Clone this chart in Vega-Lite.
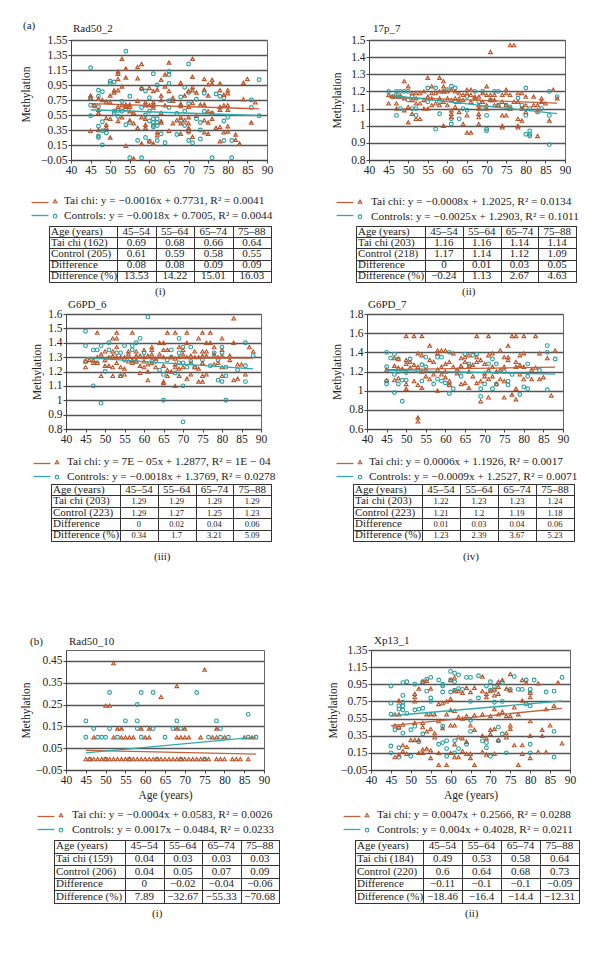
{"$schema":"https://vega.github.io/schema/vega-lite/v6.json","padding":0,"background":"white","spacing":0,"resolve":{"scale":{"color":"independent","shape":"independent","stroke":"independent"},"legend":{"color":"independent","stroke":"independent"}},
"config":{"view":{"stroke":null},"font":"Liberation Serif","text":{"font":"Liberation Serif"},"scale":{"bandPaddingInner":0,"bandPaddingOuter":0},"title":{"font":"Liberation Serif","fontSize":11,"fontWeight":"normal","anchor":"start","color":"#222","frame":"group"},
"legend":{"labelFont":"Liberation Serif","labelFontSize":11.3,"labelColor":"#222","labelLimit":320},
"point":{"filled":false,"size":14,"strokeWidth":1.1,"opacity":1},"line":{"strokeWidth":1.3},
"axisDiscrete":{"grid":true,"bandPosition":0,"tickBand":"extent","labels":false,"ticks":false,"domain":false,"gridColor":"#333","gridWidth":1},
"axisQuantitative":{"labelFont":"Liberation Serif","labelFontSize":11.5,"labelColor":"#222","titleFont":"Liberation Serif","titleFontSize":11.5,"titleFontWeight":"normal","titleColor":"#222","tickColor":"#444","domainColor":"#444","gridColor":"#555","gridWidth":1.3,"tickSize":3,"labelPadding":1,"labelOverlap":false,"labelFlush":false,"labelBound":false,"titlePadding":4}},
"datasets":{
"l1":[{"x":45,"y":0.701,"s":"Tai chi"},{"x":88,"y":0.632,"s":"Tai chi"},{"x":45,"y":0.62,"s":"Controls"},{"x":88,"y":0.542,"s":"Controls"}],
"l2":[{"x":45,"y":1.1665,"s":"Tai chi"},{"x":88,"y":1.132,"s":"Tai chi"},{"x":45,"y":1.178,"s":"Controls"},{"x":88,"y":1.07,"s":"Controls"}],
"l3":[{"x":45,"y":1.291,"s":"Tai chi"},{"x":88,"y":1.294,"s":"Tai chi"},{"x":45,"y":1.296,"s":"Controls"},{"x":88,"y":1.2185,"s":"Controls"}],
"l4":[{"x":45,"y":1.2196,"s":"Tai chi"},{"x":88,"y":1.2454,"s":"Tai chi"},{"x":45,"y":1.212,"s":"Controls"},{"x":88,"y":1.1735,"s":"Controls"}],
"l5":[{"x":45,"y":0.0403,"s":"Tai chi"},{"x":88,"y":0.0231,"s":"Tai chi"},{"x":45,"y":0.0281,"s":"Controls"},{"x":88,"y":0.101,"s":"Controls"}],
"l6":[{"x":45,"y":0.468,"s":"Tai chi"},{"x":88,"y":0.67,"s":"Tai chi"},{"x":45,"y":0.583,"s":"Controls"},{"x":88,"y":0.755,"s":"Controls"}],
"p1":[{"x":45,"y":1.18,"s":"C"},{"x":54,"y":1.4,"s":"C"},{"x":70,"y":1.23,"s":"C"},{"x":65,"y":1.13,"s":"C"},{"x":65,"y":1.09,"s":"C"},{"x":61,"y":1.1,"s":"C"},{"x":50,"y":1,"s":"C"},{"x":50,"y":0.97,"s":"C"},{"x":51,"y":0.99,"s":"C"},{"x":88,"y":1.02,"s":"C"},{"x":47,"y":0.88,"s":"C"},{"x":48,"y":0.86,"s":"C"},{"x":47,"y":0.8,"s":"C"},{"x":45,"y":0.78,"s":"C"},{"x":45,"y":0.68,"s":"C"},{"x":46,"y":0.67,"s":"C"},{"x":47,"y":0.66,"s":"C"},{"x":45,"y":0.54,"s":"C"},{"x":47,"y":0.4,"s":"C"},{"x":47,"y":0.27,"s":"C"},{"x":47,"y":0.25,"s":"C"},{"x":48,"y":0.46,"s":"C"},{"x":48,"y":0.34,"s":"C"},{"x":49,"y":0.31,"s":"C"},{"x":48,"y":0.15,"s":"C"},{"x":53,"y":0.73,"s":"C"},{"x":55,"y":0.8,"s":"C"},{"x":54,"y":0.63,"s":"C"},{"x":52,"y":0.61,"s":"C"},{"x":51,"y":0.6,"s":"C"},{"x":51,"y":0.57,"s":"C"},{"x":52,"y":0.53,"s":"C"},{"x":53,"y":0.6,"s":"C"},{"x":54,"y":0.42,"s":"C"},{"x":55,"y":0.45,"s":"C"},{"x":55,"y":-0.02,"s":"C"},{"x":58,"y":-0.02,"s":"C"},{"x":57,"y":0.21,"s":"C"},{"x":59,"y":0.25,"s":"C"},{"x":58,"y":0.65,"s":"C"},{"x":58,"y":0.9,"s":"C"},{"x":59,"y":0.87,"s":"C"},{"x":60,"y":0.78,"s":"C"},{"x":60,"y":0.6,"s":"C"},{"x":59,"y":0.55,"s":"C"},{"x":60,"y":0.47,"s":"C"},{"x":61,"y":0.45,"s":"C"},{"x":61,"y":0.41,"s":"C"},{"x":61,"y":0.39,"s":"C"},{"x":62,"y":0.5,"s":"C"},{"x":62,"y":0.45,"s":"C"},{"x":62,"y":0.41,"s":"C"},{"x":61,"y":0.5,"s":"C"},{"x":60,"y":0.2,"s":"C"},{"x":62,"y":0.21,"s":"C"},{"x":63,"y":0.3,"s":"C"},{"x":64,"y":0.18,"s":"C"},{"x":62,"y":0.95,"s":"C"},{"x":65,"y":0.97,"s":"C"},{"x":65,"y":0.74,"s":"C"},{"x":65,"y":0.65,"s":"C"},{"x":67,"y":0.57,"s":"C"},{"x":68,"y":0.79,"s":"C"},{"x":69,"y":0.92,"s":"C"},{"x":69,"y":0.6,"s":"C"},{"x":68,"y":0.47,"s":"C"},{"x":69,"y":0.41,"s":"C"},{"x":67,"y":0.29,"s":"C"},{"x":70,"y":0.32,"s":"C"},{"x":70,"y":0.21,"s":"C"},{"x":71,"y":0.18,"s":"C"},{"x":70,"y":0.7,"s":"C"},{"x":72,"y":0.76,"s":"C"},{"x":72,"y":0.5,"s":"C"},{"x":73,"y":0.45,"s":"C"},{"x":73,"y":0.35,"s":"C"},{"x":73,"y":0.23,"s":"C"},{"x":74,"y":0.84,"s":"C"},{"x":74,"y":0.6,"s":"C"},{"x":76,"y":-0.02,"s":"C"},{"x":77,"y":0.83,"s":"C"},{"x":78,"y":0.8,"s":"C"},{"x":79,"y":0.78,"s":"C"},{"x":79,"y":0.47,"s":"C"},{"x":80,"y":0.52,"s":"C"},{"x":79,"y":0.21,"s":"C"},{"x":81,"y":-0.02,"s":"C"},{"x":81,"y":0.21,"s":"C"},{"x":86,"y":0.75,"s":"C"},{"x":86,"y":0.65,"s":"C"},{"x":88,"y":0.54,"s":"C"},{"x":76,"y":0.57,"s":"C"},{"x":70,"y":0.85,"s":"C"},
{"x":53,"y":1.3,"s":"T"},{"x":71,"y":1.3,"s":"T"},{"x":65,"y":1.25,"s":"T"},{"x":58,"y":1.23,"s":"T"},{"x":57,"y":1.19,"s":"T"},{"x":54,"y":1.17,"s":"T"},{"x":52,"y":1.13,"s":"T"},{"x":52,"y":1.1,"s":"T"},{"x":52,"y":1.03,"s":"T"},{"x":54,"y":1.05,"s":"T"},{"x":57,"y":1.04,"s":"T"},{"x":64,"y":1.09,"s":"T"},{"x":63,"y":1.02,"s":"T"},{"x":68,"y":0.98,"s":"T"},{"x":71,"y":1.06,"s":"T"},{"x":74,"y":1.03,"s":"T"},{"x":76,"y":1.02,"s":"T"},{"x":76,"y":0.97,"s":"T"},{"x":75,"y":0.96,"s":"T"},{"x":78,"y":0.97,"s":"T"},{"x":84,"y":0.98,"s":"T"},{"x":85,"y":1.03,"s":"T"},{"x":53,"y":0.93,"s":"T"},{"x":51,"y":0.88,"s":"T"},{"x":52,"y":0.88,"s":"T"},{"x":51,"y":0.85,"s":"T"},{"x":61,"y":0.87,"s":"T"},{"x":62,"y":0.89,"s":"T"},{"x":60,"y":0.91,"s":"T"},{"x":64,"y":0.93,"s":"T"},{"x":65,"y":0.87,"s":"T"},{"x":58,"y":0.91,"s":"T"},{"x":70,"y":0.87,"s":"T"},{"x":71,"y":0.92,"s":"T"},{"x":71,"y":0.88,"s":"T"},{"x":72,"y":0.85,"s":"T"},{"x":74,"y":0.89,"s":"T"},{"x":75,"y":0.81,"s":"T"},{"x":78,"y":0.88,"s":"T"},{"x":79,"y":0.82,"s":"T"},{"x":80,"y":0.88,"s":"T"},{"x":80,"y":0.84,"s":"T"},{"x":46,"y":0.68,"s":"T"},{"x":45,"y":0.81,"s":"T"},{"x":45,"y":0.78,"s":"T"},{"x":47,"y":0.77,"s":"T"},{"x":48,"y":0.75,"s":"T"},{"x":49,"y":0.73,"s":"T"},{"x":50,"y":0.81,"s":"T"},{"x":50,"y":0.72,"s":"T"},{"x":55,"y":0.69,"s":"T"},{"x":54,"y":0.69,"s":"T"},{"x":53,"y":0.68,"s":"T"},{"x":52,"y":0.66,"s":"T"},{"x":54,"y":0.66,"s":"T"},{"x":55,"y":0.66,"s":"T"},{"x":57,"y":0.74,"s":"T"},{"x":59,"y":0.72,"s":"T"},{"x":59,"y":0.68,"s":"T"},{"x":60,"y":0.68,"s":"T"},{"x":61,"y":0.72,"s":"T"},{"x":61,"y":0.68,"s":"T"},{"x":61,"y":0.65,"s":"T"},{"x":63,"y":0.81,"s":"T"},{"x":63,"y":0.75,"s":"T"},{"x":64,"y":0.68,"s":"T"},{"x":66,"y":0.78,"s":"T"},{"x":66,"y":0.74,"s":"T"},{"x":68,"y":0.7,"s":"T"},{"x":68,"y":0.67,"s":"T"},{"x":69,"y":0.81,"s":"T"},{"x":70,"y":0.66,"s":"T"},{"x":71,"y":0.71,"s":"T"},{"x":73,"y":0.69,"s":"T"},{"x":74,"y":0.69,"s":"T"},{"x":75,"y":0.6,"s":"T"},{"x":76,"y":0.58,"s":"T"},{"x":78,"y":0.66,"s":"T"},{"x":78,"y":0.62,"s":"T"},{"x":79,"y":0.68,"s":"T"},{"x":80,"y":0.68,"s":"T"},{"x":80,"y":0.62,"s":"T"},{"x":84,"y":0.76,"s":"T"},{"x":87,"y":0.72,"s":"T"},{"x":45,"y":0.34,"s":"T"},{"x":47,"y":0.62,"s":"T"},{"x":47,"y":0.58,"s":"T"},{"x":47,"y":0.35,"s":"T"},{"x":49,"y":0.51,"s":"T"},{"x":49,"y":0.42,"s":"T"},{"x":49,"y":0.38,"s":"T"},{"x":50,"y":0.5,"s":"T"},{"x":50,"y":0.25,"s":"T"},{"x":52,"y":0.47,"s":"T"},{"x":53,"y":0.52,"s":"T"},{"x":54,"y":0.14,"s":"T"},{"x":55,"y":0.6,"s":"T"},{"x":55,"y":0.48,"s":"T"},{"x":56,"y":0.58,"s":"T"},{"x":56,"y":0.44,"s":"T"},{"x":56,"y":-0.03,"s":"T"},{"x":57,"y":0.38,"s":"T"},{"x":58,"y":0.52,"s":"T"},{"x":58,"y":0.17,"s":"T"},{"x":59,"y":0.5,"s":"T"},{"x":59,"y":0.42,"s":"T"},{"x":59,"y":0.38,"s":"T"},{"x":60,"y":0.2,"s":"T"},{"x":61,"y":0.17,"s":"T"},{"x":62,"y":0.32,"s":"T"},{"x":62,"y":0.28,"s":"T"},{"x":63,"y":0.58,"s":"T"},{"x":63,"y":0.47,"s":"T"},{"x":63,"y":0.45,"s":"T"},{"x":65,"y":0.34,"s":"T"},{"x":66,"y":0.44,"s":"T"},{"x":67,"y":0.48,"s":"T"},{"x":68,"y":0.52,"s":"T"},{"x":68,"y":0.44,"s":"T"},{"x":68,"y":0.3,"s":"T"},{"x":69,"y":0.48,"s":"T"},{"x":70,"y":0.52,"s":"T"},{"x":70,"y":0.44,"s":"T"},{"x":70,"y":0.38,"s":"T"},{"x":70,"y":0.34,"s":"T"},{"x":71,"y":0.26,"s":"T"},{"x":72,"y":0.54,"s":"T"},{"x":74,"y":0.48,"s":"T"},{"x":75,"y":0.45,"s":"T"},{"x":75,"y":0.3,"s":"T"},{"x":74,"y":0.32,"s":"T"},{"x":76,"y":0.5,"s":"T"},{"x":77,"y":0.38,"s":"T"},{"x":78,"y":0.39,"s":"T"},{"x":78,"y":0.2,"s":"T"},{"x":79,"y":0.32,"s":"T"},{"x":80,"y":0.4,"s":"T"},{"x":80,"y":0.33,"s":"T"},{"x":82,"y":0.29,"s":"T"},{"x":82,"y":0.22,"s":"T"},{"x":83,"y":0.17,"s":"T"},{"x":86,"y":0.45,"s":"T"}],
"p2":[{"x":45,"y":1.2,"s":"C"},{"x":46,"y":1.17,"s":"C"},{"x":47,"y":1.2,"s":"C"},{"x":47,"y":1.18,"s":"C"},{"x":48,"y":1.2,"s":"C"},{"x":49,"y":1.2,"s":"C"},{"x":50,"y":1.2,"s":"C"},{"x":48,"y":1.17,"s":"C"},{"x":47,"y":1.06,"s":"C"},{"x":48,"y":1.1,"s":"C"},{"x":50,"y":1.15,"s":"C"},{"x":51,"y":1.17,"s":"C"},{"x":51,"y":1.1,"s":"C"},{"x":52,"y":1.1,"s":"C"},{"x":52,"y":1.06,"s":"C"},{"x":55,"y":1.22,"s":"C"},{"x":55,"y":1.14,"s":"C"},{"x":57,"y":1.22,"s":"C"},{"x":57,"y":0.98,"s":"C"},{"x":58,"y":1.14,"s":"C"},{"x":58,"y":1.07,"s":"C"},{"x":59,"y":1.2,"s":"C"},{"x":60,"y":1.21,"s":"C"},{"x":61,"y":1.23,"s":"C"},{"x":62,"y":1.22,"s":"C"},{"x":61,"y":1.04,"s":"C"},{"x":61,"y":1.01,"s":"C"},{"x":62,"y":1.14,"s":"C"},{"x":63,"y":1.04,"s":"C"},{"x":64,"y":1.1,"s":"C"},{"x":65,"y":1.09,"s":"C"},{"x":65,"y":1.17,"s":"C"},{"x":67,"y":1.2,"s":"C"},{"x":69,"y":1.2,"s":"C"},{"x":70,"y":0.98,"s":"C"},{"x":70,"y":0.97,"s":"C"},{"x":68,"y":1.14,"s":"C"},{"x":69,"y":1.1,"s":"C"},{"x":70,"y":1.06,"s":"C"},{"x":72,"y":1.2,"s":"C"},{"x":73,"y":1.2,"s":"C"},{"x":73,"y":1.12,"s":"C"},{"x":71,"y":1.15,"s":"C"},{"x":75,"y":1.12,"s":"C"},{"x":76,"y":1.1,"s":"C"},{"x":76,"y":1.11,"s":"C"},{"x":78,"y":1.16,"s":"C"},{"x":79,"y":1.12,"s":"C"},{"x":79,"y":1.1,"s":"C"},{"x":80,"y":1.22,"s":"C"},{"x":80,"y":1.06,"s":"C"},{"x":80,"y":0.95,"s":"C"},{"x":81,"y":0.97,"s":"C"},{"x":81,"y":0.95,"s":"C"},{"x":81,"y":0.94,"s":"C"},{"x":81,"y":1.1,"s":"C"},{"x":83,"y":1.08,"s":"C"},{"x":84,"y":1.1,"s":"C"},{"x":86,"y":1.2,"s":"C"},{"x":86,"y":1.06,"s":"C"},{"x":86,"y":0.89,"s":"C"},{"x":88,"y":1.17,"s":"C"},
{"x":71,"y":1.43,"s":"T"},{"x":76,"y":1.47,"s":"T"},{"x":77,"y":1.47,"s":"T"},{"x":49,"y":1.26,"s":"T"},{"x":55,"y":1.28,"s":"T"},{"x":58,"y":1.28,"s":"T"},{"x":59,"y":1.26,"s":"T"},{"x":50,"y":1.23,"s":"T"},{"x":56,"y":1.23,"s":"T"},{"x":59,"y":1.23,"s":"T"},{"x":70,"y":1.23,"s":"T"},{"x":75,"y":1.21,"s":"T"},{"x":65,"y":1.21,"s":"T"},{"x":66,"y":1.21,"s":"T"},{"x":87,"y":1.21,"s":"T"},{"x":45,"y":1.18,"s":"T"},{"x":46,"y":1.17,"s":"T"},{"x":47,"y":1.17,"s":"T"},{"x":48,"y":1.17,"s":"T"},{"x":49,"y":1.16,"s":"T"},{"x":51,"y":1.19,"s":"T"},{"x":52,"y":1.19,"s":"T"},{"x":53,"y":1.19,"s":"T"},{"x":54,"y":1.2,"s":"T"},{"x":55,"y":1.17,"s":"T"},{"x":56,"y":1.19,"s":"T"},{"x":57,"y":1.19,"s":"T"},{"x":58,"y":1.2,"s":"T"},{"x":59,"y":1.2,"s":"T"},{"x":60,"y":1.2,"s":"T"},{"x":61,"y":1.21,"s":"T"},{"x":62,"y":1.2,"s":"T"},{"x":63,"y":1.19,"s":"T"},{"x":64,"y":1.18,"s":"T"},{"x":65,"y":1.19,"s":"T"},{"x":66,"y":1.18,"s":"T"},{"x":67,"y":1.17,"s":"T"},{"x":68,"y":1.17,"s":"T"},{"x":69,"y":1.19,"s":"T"},{"x":70,"y":1.18,"s":"T"},{"x":71,"y":1.18,"s":"T"},{"x":72,"y":1.18,"s":"T"},{"x":74,"y":1.18,"s":"T"},{"x":75,"y":1.19,"s":"T"},{"x":76,"y":1.18,"s":"T"},{"x":78,"y":1.19,"s":"T"},{"x":79,"y":1.19,"s":"T"},{"x":80,"y":1.17,"s":"T"},{"x":82,"y":1.17,"s":"T"},{"x":84,"y":1.16,"s":"T"},{"x":88,"y":1.16,"s":"T"},{"x":45,"y":1.13,"s":"T"},{"x":47,"y":1.13,"s":"T"},{"x":47,"y":1.1,"s":"T"},{"x":49,"y":1.09,"s":"T"},{"x":50,"y":1.11,"s":"T"},{"x":51,"y":1.15,"s":"T"},{"x":52,"y":1.13,"s":"T"},{"x":53,"y":1.13,"s":"T"},{"x":54,"y":1.1,"s":"T"},{"x":55,"y":1.1,"s":"T"},{"x":56,"y":1.12,"s":"T"},{"x":57,"y":1.13,"s":"T"},{"x":58,"y":1.12,"s":"T"},{"x":59,"y":1.14,"s":"T"},{"x":60,"y":1.12,"s":"T"},{"x":61,"y":1.15,"s":"T"},{"x":61,"y":1.09,"s":"T"},{"x":62,"y":1.11,"s":"T"},{"x":63,"y":1.14,"s":"T"},{"x":64,"y":1.15,"s":"T"},{"x":66,"y":1.14,"s":"T"},{"x":68,"y":1.12,"s":"T"},{"x":68,"y":1.1,"s":"T"},{"x":69,"y":1.14,"s":"T"},{"x":70,"y":1.12,"s":"T"},{"x":71,"y":1.15,"s":"T"},{"x":72,"y":1.15,"s":"T"},{"x":73,"y":1.12,"s":"T"},{"x":74,"y":1.14,"s":"T"},{"x":75,"y":1.12,"s":"T"},{"x":76,"y":1.1,"s":"T"},{"x":77,"y":1.14,"s":"T"},{"x":78,"y":1.14,"s":"T"},{"x":79,"y":1.1,"s":"T"},{"x":80,"y":1.12,"s":"T"},{"x":82,"y":1.12,"s":"T"},{"x":83,"y":1.12,"s":"T"},{"x":83,"y":1.09,"s":"T"},{"x":85,"y":1.13,"s":"T"},{"x":84,"y":1.14,"s":"T"},{"x":50,"y":1.02,"s":"T"},{"x":51,"y":1.07,"s":"T"},{"x":52,"y":1.04,"s":"T"},{"x":53,"y":1.04,"s":"T"},{"x":59,"y":1,"s":"T"},{"x":61,"y":1.07,"s":"T"},{"x":61,"y":1.05,"s":"T"},{"x":63,"y":1.08,"s":"T"},{"x":64,"y":1.01,"s":"T"},{"x":65,"y":1.06,"s":"T"},{"x":65,"y":0.96,"s":"T"},{"x":66,"y":0.96,"s":"T"},{"x":68,"y":1.07,"s":"T"},{"x":68,"y":1.05,"s":"T"},{"x":68,"y":1.01,"s":"T"},{"x":70,"y":1.1,"s":"T"},{"x":74,"y":1.06,"s":"T"},{"x":74,"y":1,"s":"T"},{"x":74,"y":0.99,"s":"T"},{"x":75,"y":1.06,"s":"T"},{"x":78,"y":1.04,"s":"T"},{"x":78,"y":1,"s":"T"},{"x":78,"y":0.99,"s":"T"},{"x":79,"y":1.03,"s":"T"},{"x":80,"y":1.08,"s":"T"},{"x":83,"y":0.94,"s":"T"},{"x":86,"y":1.03,"s":"T"},{"x":72,"y":1.12,"s":"T"},{"x":67,"y":1.16,"s":"T"},{"x":58,"y":1.16,"s":"T"},{"x":60,"y":1.16,"s":"T"},{"x":62,"y":1.16,"s":"T"},{"x":63,"y":1.16,"s":"T"},{"x":56,"y":1.16,"s":"T"},{"x":54,"y":1.15,"s":"T"},{"x":52,"y":1.16,"s":"T"}],
"p3":[{"x":45,"y":1.48,"s":"C"},{"x":45,"y":1.38,"s":"C"},{"x":45,"y":1.27,"s":"C"},{"x":47,"y":1.1,"s":"C"},{"x":47,"y":1.35,"s":"C"},{"x":48,"y":1.35,"s":"C"},{"x":48,"y":1.26,"s":"C"},{"x":49,"y":1.38,"s":"C"},{"x":49,"y":0.98,"s":"C"},{"x":50,"y":1.2,"s":"C"},{"x":51,"y":1.4,"s":"C"},{"x":51,"y":1.35,"s":"C"},{"x":53,"y":1.33,"s":"C"},{"x":54,"y":1.33,"s":"C"},{"x":54,"y":1.17,"s":"C"},{"x":55,"y":1.38,"s":"C"},{"x":57,"y":1.38,"s":"C"},{"x":57,"y":1.35,"s":"C"},{"x":58,"y":1.4,"s":"C"},{"x":59,"y":1.43,"s":"C"},{"x":61,"y":1.58,"s":"C"},{"x":60,"y":1.33,"s":"C"},{"x":62,"y":1.27,"s":"C"},{"x":64,"y":1.21,"s":"C"},{"x":65,"y":1.18,"s":"C"},{"x":65,"y":1,"s":"C"},{"x":66,"y":1.28,"s":"C"},{"x":67,"y":1.35,"s":"C"},{"x":67,"y":1.3,"s":"C"},{"x":68,"y":1.19,"s":"C"},{"x":69,"y":1.43,"s":"C"},{"x":69,"y":1.33,"s":"C"},{"x":69,"y":1.26,"s":"C"},{"x":70,"y":1.37,"s":"C"},{"x":70,"y":1.26,"s":"C"},{"x":70,"y":1.1,"s":"C"},{"x":70,"y":0.85,"s":"C"},{"x":71,"y":1.23,"s":"C"},{"x":72,"y":1.37,"s":"C"},{"x":72,"y":1.27,"s":"C"},{"x":73,"y":1.23,"s":"C"},{"x":75,"y":1.28,"s":"C"},{"x":77,"y":1.24,"s":"C"},{"x":78,"y":1.33,"s":"C"},{"x":79,"y":1.28,"s":"C"},{"x":79,"y":1.14,"s":"C"},{"x":80,"y":1.37,"s":"C"},{"x":80,"y":1.33,"s":"C"},{"x":80,"y":1.13,"s":"C"},{"x":81,"y":1.23,"s":"C"},{"x":81,"y":1.17,"s":"C"},{"x":81,"y":1,"s":"C"},{"x":84,"y":1.21,"s":"C"},{"x":86,"y":1.4,"s":"C"},{"x":86,"y":1.24,"s":"C"},{"x":86,"y":1.13,"s":"C"},{"x":88,"y":1.31,"s":"C"},{"x":55,"y":1.28,"s":"C"},{"x":58,"y":1.27,"s":"C"},{"x":63,"y":1.27,"s":"C"},
{"x":83,"y":1.57,"s":"T"},{"x":48,"y":1.47,"s":"T"},{"x":53,"y":1.47,"s":"T"},{"x":57,"y":1.47,"s":"T"},{"x":66,"y":1.47,"s":"T"},{"x":68,"y":1.47,"s":"T"},{"x":71,"y":1.47,"s":"T"},{"x":75,"y":1.47,"s":"T"},{"x":77,"y":1.47,"s":"T"},{"x":52,"y":1.43,"s":"T"},{"x":53,"y":1.43,"s":"T"},{"x":74,"y":1.43,"s":"T"},{"x":80,"y":1.43,"s":"T"},{"x":64,"y":1.4,"s":"T"},{"x":65,"y":1.4,"s":"T"},{"x":71,"y":1.4,"s":"T"},{"x":76,"y":1.4,"s":"T"},{"x":77,"y":1.4,"s":"T"},{"x":83,"y":1.4,"s":"T"},{"x":53,"y":1.37,"s":"T"},{"x":62,"y":1.37,"s":"T"},{"x":69,"y":1.37,"s":"T"},{"x":78,"y":1.37,"s":"T"},{"x":87,"y":1.37,"s":"T"},{"x":50,"y":1.34,"s":"T"},{"x":52,"y":1.34,"s":"T"},{"x":56,"y":1.34,"s":"T"},{"x":58,"y":1.34,"s":"T"},{"x":60,"y":1.35,"s":"T"},{"x":62,"y":1.35,"s":"T"},{"x":65,"y":1.35,"s":"T"},{"x":66,"y":1.35,"s":"T"},{"x":70,"y":1.35,"s":"T"},{"x":73,"y":1.34,"s":"T"},{"x":75,"y":1.34,"s":"T"},{"x":76,"y":1.34,"s":"T"},{"x":80,"y":1.35,"s":"T"},{"x":88,"y":1.34,"s":"T"},{"x":45,"y":1.27,"s":"T"},{"x":46,"y":1.28,"s":"T"},{"x":47,"y":1.28,"s":"T"},{"x":48,"y":1.3,"s":"T"},{"x":49,"y":1.32,"s":"T"},{"x":50,"y":1.28,"s":"T"},{"x":51,"y":1.3,"s":"T"},{"x":52,"y":1.31,"s":"T"},{"x":53,"y":1.3,"s":"T"},{"x":54,"y":1.3,"s":"T"},{"x":55,"y":1.3,"s":"T"},{"x":56,"y":1.32,"s":"T"},{"x":57,"y":1.28,"s":"T"},{"x":58,"y":1.31,"s":"T"},{"x":59,"y":1.31,"s":"T"},{"x":60,"y":1.3,"s":"T"},{"x":61,"y":1.31,"s":"T"},{"x":62,"y":1.32,"s":"T"},{"x":63,"y":1.29,"s":"T"},{"x":64,"y":1.32,"s":"T"},{"x":65,"y":1.3,"s":"T"},{"x":67,"y":1.3,"s":"T"},{"x":68,"y":1.29,"s":"T"},{"x":69,"y":1.3,"s":"T"},{"x":70,"y":1.32,"s":"T"},{"x":71,"y":1.3,"s":"T"},{"x":72,"y":1.31,"s":"T"},{"x":73,"y":1.3,"s":"T"},{"x":74,"y":1.3,"s":"T"},{"x":75,"y":1.31,"s":"T"},{"x":76,"y":1.31,"s":"T"},{"x":78,"y":1.32,"s":"T"},{"x":79,"y":1.3,"s":"T"},{"x":80,"y":1.31,"s":"T"},{"x":82,"y":1.31,"s":"T"},{"x":82,"y":1.28,"s":"T"},{"x":45,"y":1.23,"s":"T"},{"x":47,"y":1.26,"s":"T"},{"x":48,"y":1.26,"s":"T"},{"x":49,"y":1.17,"s":"T"},{"x":50,"y":1.24,"s":"T"},{"x":51,"y":1.24,"s":"T"},{"x":52,"y":1.23,"s":"T"},{"x":52,"y":1.17,"s":"T"},{"x":53,"y":1.26,"s":"T"},{"x":54,"y":1.23,"s":"T"},{"x":54,"y":1.17,"s":"T"},{"x":55,"y":1.22,"s":"T"},{"x":55,"y":1.18,"s":"T"},{"x":56,"y":1.27,"s":"T"},{"x":57,"y":1.26,"s":"T"},{"x":58,"y":1.27,"s":"T"},{"x":59,"y":1.24,"s":"T"},{"x":59,"y":1.19,"s":"T"},{"x":60,"y":1.23,"s":"T"},{"x":61,"y":1.25,"s":"T"},{"x":61,"y":1.2,"s":"T"},{"x":61,"y":1.14,"s":"T"},{"x":62,"y":1.26,"s":"T"},{"x":63,"y":1.23,"s":"T"},{"x":65,"y":1.24,"s":"T"},{"x":65,"y":1.13,"s":"T"},{"x":65,"y":1.12,"s":"T"},{"x":66,"y":1.21,"s":"T"},{"x":66,"y":1.17,"s":"T"},{"x":67,"y":1.2,"s":"T"},{"x":68,"y":1.23,"s":"T"},{"x":68,"y":1.1,"s":"T"},{"x":69,"y":1.22,"s":"T"},{"x":69,"y":1.17,"s":"T"},{"x":70,"y":1.23,"s":"T"},{"x":71,"y":1.15,"s":"T"},{"x":72,"y":1.18,"s":"T"},{"x":72,"y":1.26,"s":"T"},{"x":73,"y":1.23,"s":"T"},{"x":74,"y":1.22,"s":"T"},{"x":74,"y":1.13,"s":"T"},{"x":75,"y":1.26,"s":"T"},{"x":75,"y":1.17,"s":"T"},{"x":75,"y":1.13,"s":"T"},{"x":76,"y":1.18,"s":"T"},{"x":78,"y":1.25,"s":"T"},{"x":79,"y":1.26,"s":"T"},{"x":80,"y":1.23,"s":"T"},{"x":80,"y":1.17,"s":"T"},{"x":83,"y":1.14,"s":"T"},{"x":84,"y":1.15,"s":"T"},{"x":84,"y":1.25,"s":"T"},{"x":85,"y":1.25,"s":"T"},{"x":86,"y":1.18,"s":"T"},{"x":68,"y":1.25,"s":"T"},{"x":60,"y":1.27,"s":"T"}],
"p4":[{"x":45,"y":1.4,"s":"C"},{"x":45,"y":1.25,"s":"C"},{"x":45,"y":1.1,"s":"C"},{"x":45,"y":1.07,"s":"C"},{"x":46,"y":1.34,"s":"C"},{"x":47,"y":1.38,"s":"C"},{"x":47,"y":1.17,"s":"C"},{"x":47,"y":0.98,"s":"C"},{"x":48,"y":1.33,"s":"C"},{"x":48,"y":1.2,"s":"C"},{"x":48,"y":1.07,"s":"C"},{"x":49,"y":1.11,"s":"C"},{"x":49,"y":0.89,"s":"C"},{"x":50,"y":1.11,"s":"C"},{"x":50,"y":1.19,"s":"C"},{"x":51,"y":1.33,"s":"C"},{"x":53,"y":1.21,"s":"C"},{"x":54,"y":1.27,"s":"C"},{"x":54,"y":1.1,"s":"C"},{"x":55,"y":1.35,"s":"C"},{"x":55,"y":1.25,"s":"C"},{"x":57,"y":1.07,"s":"C"},{"x":58,"y":1.35,"s":"C"},{"x":58,"y":1.12,"s":"C"},{"x":59,"y":1.35,"s":"C"},{"x":59,"y":1.1,"s":"C"},{"x":60,"y":1.08,"s":"C"},{"x":61,"y":1.4,"s":"C"},{"x":61,"y":1.06,"s":"C"},{"x":61,"y":0.97,"s":"C"},{"x":62,"y":1.02,"s":"C"},{"x":63,"y":1.2,"s":"C"},{"x":64,"y":1.15,"s":"C"},{"x":65,"y":1.38,"s":"C"},{"x":66,"y":1.28,"s":"C"},{"x":67,"y":1.37,"s":"C"},{"x":68,"y":1.38,"s":"C"},{"x":69,"y":0.94,"s":"C"},{"x":69,"y":1.02,"s":"C"},{"x":70,"y":1.07,"s":"C"},{"x":71,"y":1.28,"s":"C"},{"x":72,"y":1.33,"s":"C"},{"x":72,"y":1.02,"s":"C"},{"x":73,"y":1.28,"s":"C"},{"x":73,"y":1.07,"s":"C"},{"x":75,"y":1.2,"s":"C"},{"x":76,"y":1.06,"s":"C"},{"x":76,"y":1.1,"s":"C"},{"x":77,"y":1.17,"s":"C"},{"x":79,"y":0.96,"s":"C"},{"x":80,"y":1.04,"s":"C"},{"x":81,"y":1.28,"s":"C"},{"x":81,"y":1.02,"s":"C"},{"x":81,"y":1.15,"s":"C"},{"x":84,"y":1.21,"s":"C"},{"x":86,"y":1.47,"s":"C"},{"x":86,"y":1.4,"s":"C"},{"x":86,"y":1.01,"s":"C"},{"x":88,"y":1.33,"s":"C"},
{"x":50,"y":1.57,"s":"T"},{"x":52,"y":1.57,"s":"T"},{"x":54,"y":1.57,"s":"T"},{"x":68,"y":1.57,"s":"T"},{"x":71,"y":1.57,"s":"T"},{"x":77,"y":1.57,"s":"T"},{"x":78,"y":1.57,"s":"T"},{"x":80,"y":1.57,"s":"T"},{"x":83,"y":1.57,"s":"T"},{"x":56,"y":1.47,"s":"T"},{"x":76,"y":1.47,"s":"T"},{"x":58,"y":1.42,"s":"T"},{"x":59,"y":1.42,"s":"T"},{"x":60,"y":1.42,"s":"T"},{"x":74,"y":1.42,"s":"T"},{"x":88,"y":1.42,"s":"T"},{"x":53,"y":1.39,"s":"T"},{"x":54,"y":1.37,"s":"T"},{"x":62,"y":1.39,"s":"T"},{"x":58,"y":1.39,"s":"T"},{"x":72,"y":1.39,"s":"T"},{"x":71,"y":1.37,"s":"T"},{"x":79,"y":1.37,"s":"T"},{"x":80,"y":1.39,"s":"T"},{"x":84,"y":1.39,"s":"T"},{"x":64,"y":1.34,"s":"T"},{"x":65,"y":1.35,"s":"T"},{"x":66,"y":1.37,"s":"T"},{"x":68,"y":1.35,"s":"T"},{"x":75,"y":1.35,"s":"T"},{"x":76,"y":1.35,"s":"T"},{"x":86,"y":1.34,"s":"T"},{"x":47,"y":1.34,"s":"T"},{"x":48,"y":1.33,"s":"T"},{"x":50,"y":1.32,"s":"T"},{"x":51,"y":1.3,"s":"T"},{"x":45,"y":1.22,"s":"T"},{"x":47,"y":1.26,"s":"T"},{"x":48,"y":1.24,"s":"T"},{"x":49,"y":1.23,"s":"T"},{"x":50,"y":1.28,"s":"T"},{"x":51,"y":1.24,"s":"T"},{"x":52,"y":1.27,"s":"T"},{"x":53,"y":1.25,"s":"T"},{"x":54,"y":1.2,"s":"T"},{"x":55,"y":1.22,"s":"T"},{"x":56,"y":1.32,"s":"T"},{"x":57,"y":1.3,"s":"T"},{"x":58,"y":1.22,"s":"T"},{"x":59,"y":1.25,"s":"T"},{"x":60,"y":1.28,"s":"T"},{"x":61,"y":1.3,"s":"T"},{"x":62,"y":1.25,"s":"T"},{"x":63,"y":1.22,"s":"T"},{"x":64,"y":1.26,"s":"T"},{"x":65,"y":1.3,"s":"T"},{"x":66,"y":1.26,"s":"T"},{"x":67,"y":1.27,"s":"T"},{"x":68,"y":1.3,"s":"T"},{"x":69,"y":1.32,"s":"T"},{"x":70,"y":1.28,"s":"T"},{"x":71,"y":1.22,"s":"T"},{"x":72,"y":1.25,"s":"T"},{"x":73,"y":1.2,"s":"T"},{"x":74,"y":1.22,"s":"T"},{"x":75,"y":1.25,"s":"T"},{"x":76,"y":1.32,"s":"T"},{"x":78,"y":1.3,"s":"T"},{"x":78,"y":1.25,"s":"T"},{"x":79,"y":1.27,"s":"T"},{"x":80,"y":1.25,"s":"T"},{"x":82,"y":1.22,"s":"T"},{"x":83,"y":1.24,"s":"T"},{"x":45,"y":1.11,"s":"T"},{"x":47,"y":1.11,"s":"T"},{"x":48,"y":1.13,"s":"T"},{"x":50,"y":1.07,"s":"T"},{"x":50,"y":1.02,"s":"T"},{"x":52,"y":1.1,"s":"T"},{"x":53,"y":1.06,"s":"T"},{"x":54,"y":1.03,"s":"T"},{"x":55,"y":1.15,"s":"T"},{"x":56,"y":1.12,"s":"T"},{"x":57,"y":1.17,"s":"T"},{"x":58,"y":1,"s":"T"},{"x":59,"y":1.17,"s":"T"},{"x":60,"y":1.14,"s":"T"},{"x":61,"y":1.1,"s":"T"},{"x":61,"y":1.06,"s":"T"},{"x":63,"y":1.18,"s":"T"},{"x":64,"y":1.07,"s":"T"},{"x":65,"y":1.08,"s":"T"},{"x":66,"y":1.03,"s":"T"},{"x":67,"y":1.15,"s":"T"},{"x":68,"y":1.08,"s":"T"},{"x":69,"y":1.1,"s":"T"},{"x":69,"y":0.89,"s":"T"},{"x":70,"y":1.15,"s":"T"},{"x":71,"y":1.12,"s":"T"},{"x":71,"y":0.93,"s":"T"},{"x":72,"y":1.15,"s":"T"},{"x":73,"y":1.07,"s":"T"},{"x":74,"y":1.12,"s":"T"},{"x":75,"y":1.1,"s":"T"},{"x":75,"y":0.93,"s":"T"},{"x":77,"y":0.96,"s":"T"},{"x":78,"y":1.02,"s":"T"},{"x":78,"y":0.91,"s":"T"},{"x":79,"y":1.17,"s":"T"},{"x":80,"y":1.12,"s":"T"},{"x":82,"y":1.12,"s":"T"},{"x":84,"y":1.12,"s":"T"},{"x":85,"y":1.14,"s":"T"},{"x":87,"y":0.95,"s":"T"},{"x":53,"y":0.72,"s":"T"},{"x":53,"y":0.68,"s":"T"},{"x":60,"y":1.2,"s":"T"},{"x":66,"y":1.2,"s":"T"},{"x":70,"y":1.18,"s":"T"}],
"p5":[{"x":51,"y":0.305,"s":"C"},{"x":59,"y":0.305,"s":"C"},{"x":62,"y":0.305,"s":"C"},{"x":73,"y":0.305,"s":"C"},{"x":58,"y":0.25,"s":"C"},{"x":86,"y":0.205,"s":"C"},{"x":45,"y":0.175,"s":"C"},{"x":55,"y":0.175,"s":"C"},{"x":58,"y":0.175,"s":"C"},{"x":68,"y":0.175,"s":"C"},{"x":78,"y":0.175,"s":"C"},{"x":47,"y":0.14,"s":"C"},{"x":51,"y":0.14,"s":"C"},{"x":58,"y":0.14,"s":"C"},{"x":62,"y":0.14,"s":"C"},{"x":67,"y":0.14,"s":"C"},{"x":69,"y":0.14,"s":"C"},{"x":79,"y":0.14,"s":"C"},{"x":45,"y":0.1,"s":"C"},{"x":48,"y":0.1,"s":"C"},{"x":49,"y":0.1,"s":"C"},{"x":50,"y":0.1,"s":"C"},{"x":53,"y":0.1,"s":"C"},{"x":59,"y":0.1,"s":"C"},{"x":65,"y":0.1,"s":"C"},{"x":76,"y":0.1,"s":"C"},{"x":79,"y":0.1,"s":"C"},{"x":81,"y":0.1,"s":"C"},{"x":86,"y":0.1,"s":"C"},{"x":88,"y":0.1,"s":"C"},{"x":46,"y":0,"s":"C"},{"x":50,"y":0,"s":"C"},{"x":56,"y":0,"s":"C"},{"x":63,"y":0,"s":"C"},{"x":69,"y":0,"s":"C"},{"x":75,"y":0,"s":"C"},
{"x":52,"y":0.44,"s":"T"},{"x":75,"y":0.41,"s":"T"},{"x":68,"y":0.335,"s":"T"},{"x":64,"y":0.285,"s":"T"},{"x":50,"y":0.245,"s":"T"},{"x":51,"y":0.245,"s":"T"},{"x":53,"y":0.14,"s":"T"},{"x":54,"y":0.14,"s":"T"},{"x":59,"y":0.14,"s":"T"},{"x":61,"y":0.14,"s":"T"},{"x":68,"y":0.14,"s":"T"},{"x":70,"y":0.14,"s":"T"},{"x":78,"y":0.14,"s":"T"},{"x":47,"y":0.1,"s":"T"},{"x":52,"y":0.1,"s":"T"},{"x":54,"y":0.1,"s":"T"},{"x":55,"y":0.1,"s":"T"},{"x":56,"y":0.1,"s":"T"},{"x":57,"y":0.1,"s":"T"},{"x":60,"y":0.1,"s":"T"},{"x":61,"y":0.1,"s":"T"},{"x":68,"y":0.1,"s":"T"},{"x":69,"y":0.1,"s":"T"},{"x":70,"y":0.1,"s":"T"},{"x":71,"y":0.1,"s":"T"},{"x":74,"y":0.1,"s":"T"},{"x":77,"y":0.1,"s":"T"},{"x":78,"y":0.1,"s":"T"},{"x":80,"y":0.1,"s":"T"},{"x":85,"y":0.1,"s":"T"},{"x":87,"y":0.1,"s":"T"},{"x":45,"y":0,"s":"T"},{"x":46,"y":0,"s":"T"},{"x":47,"y":0,"s":"T"},{"x":48,"y":0,"s":"T"},{"x":49,"y":0,"s":"T"},{"x":50,"y":0,"s":"T"},{"x":51,"y":0,"s":"T"},{"x":52,"y":0,"s":"T"},{"x":53,"y":0,"s":"T"},{"x":54,"y":0,"s":"T"},{"x":55,"y":0,"s":"T"},{"x":56,"y":0,"s":"T"},{"x":57,"y":0,"s":"T"},{"x":58,"y":0,"s":"T"},{"x":59,"y":0,"s":"T"},{"x":60,"y":0,"s":"T"},{"x":61,"y":0,"s":"T"},{"x":62,"y":0,"s":"T"},{"x":63,"y":0,"s":"T"},{"x":64,"y":0,"s":"T"},{"x":65,"y":0,"s":"T"},{"x":66,"y":0,"s":"T"},{"x":67,"y":0,"s":"T"},{"x":68,"y":0,"s":"T"},{"x":69,"y":0,"s":"T"},{"x":70,"y":0,"s":"T"},{"x":71,"y":0,"s":"T"},{"x":72,"y":0,"s":"T"},{"x":73,"y":0,"s":"T"},{"x":74,"y":0,"s":"T"},{"x":75,"y":0,"s":"T"},{"x":76,"y":0,"s":"T"},{"x":78,"y":0,"s":"T"},{"x":79,"y":0,"s":"T"},{"x":80,"y":0,"s":"T"},{"x":82,"y":0,"s":"T"},{"x":83,"y":0,"s":"T"},{"x":84,"y":0,"s":"T"},{"x":86,"y":0,"s":"T"}],
"p6":[{"x":45,"y":0.93,"s":"C"},{"x":48,"y":0.97,"s":"C"},{"x":49,"y":0.98,"s":"C"},{"x":51,"y":0.95,"s":"C"},{"x":53,"y":0.98,"s":"C"},{"x":54,"y":1.01,"s":"C"},{"x":55,"y":1.03,"s":"C"},{"x":57,"y":1,"s":"C"},{"x":58,"y":0.95,"s":"C"},{"x":58,"y":0.93,"s":"C"},{"x":60,"y":1.1,"s":"C"},{"x":61,"y":1.08,"s":"C"},{"x":62,"y":1.06,"s":"C"},{"x":60,"y":1,"s":"C"},{"x":61,"y":0.98,"s":"C"},{"x":64,"y":1.03,"s":"C"},{"x":65,"y":1.03,"s":"C"},{"x":67,"y":1.05,"s":"C"},{"x":69,"y":0.93,"s":"C"},{"x":70,"y":0.98,"s":"C"},{"x":71,"y":0.92,"s":"C"},{"x":70,"y":0.88,"s":"C"},{"x":73,"y":0.97,"s":"C"},{"x":76,"y":1.04,"s":"C"},{"x":77,"y":0.89,"s":"C"},{"x":78,"y":0.89,"s":"C"},{"x":79,"y":1,"s":"C"},{"x":81,"y":1,"s":"C"},{"x":80,"y":0.89,"s":"C"},{"x":84,"y":0.86,"s":"C"},{"x":86,"y":0.87,"s":"C"},{"x":88,"y":1.03,"s":"C"},{"x":48,"y":0.82,"s":"C"},{"x":48,"y":0.74,"s":"C"},{"x":48,"y":0.7,"s":"C"},{"x":47,"y":0.7,"s":"C"},{"x":47,"y":0.66,"s":"C"},{"x":48,"y":0.65,"s":"C"},{"x":45,"y":0.73,"s":"C"},{"x":45,"y":0.6,"s":"C"},{"x":49,"y":0.61,"s":"C"},{"x":51,"y":0.65,"s":"C"},{"x":52,"y":0.66,"s":"C"},{"x":53,"y":0.67,"s":"C"},{"x":55,"y":0.79,"s":"C"},{"x":55,"y":0.75,"s":"C"},{"x":54,"y":0.87,"s":"C"},{"x":58,"y":0.86,"s":"C"},{"x":60,"y":0.86,"s":"C"},{"x":61,"y":0.88,"s":"C"},{"x":62,"y":0.9,"s":"C"},{"x":63,"y":0.89,"s":"C"},{"x":65,"y":0.75,"s":"C"},{"x":67,"y":0.79,"s":"C"},{"x":71,"y":0.74,"s":"C"},{"x":71,"y":0.88,"s":"C"},{"x":73,"y":0.75,"s":"C"},{"x":75,"y":0.89,"s":"C"},{"x":79,"y":0.72,"s":"C"},{"x":80,"y":0.7,"s":"C"},{"x":80,"y":0.85,"s":"C"},{"x":46,"y":0.42,"s":"C"},{"x":47,"y":0.44,"s":"C"},{"x":48,"y":0.38,"s":"C"},{"x":50,"y":0.42,"s":"C"},{"x":51,"y":0.46,"s":"C"},{"x":52,"y":0.28,"s":"C"},{"x":53,"y":0.37,"s":"C"},{"x":57,"y":0.25,"s":"C"},{"x":58,"y":0.46,"s":"C"},{"x":58,"y":0.27,"s":"C"},{"x":59,"y":0.29,"s":"C"},{"x":59,"y":0.2,"s":"C"},{"x":59,"y":0.11,"s":"C"},{"x":61,"y":0.29,"s":"C"},{"x":61,"y":0.15,"s":"C"},{"x":62,"y":0.2,"s":"C"},{"x":64,"y":0.25,"s":"C"},{"x":65,"y":0.4,"s":"C"},{"x":65,"y":0.53,"s":"C"},{"x":68,"y":0.29,"s":"C"},{"x":69,"y":0.21,"s":"C"},{"x":69,"y":0.27,"s":"C"},{"x":70,"y":0.11,"s":"C"},{"x":72,"y":0.29,"s":"C"},{"x":72,"y":0.45,"s":"C"},{"x":73,"y":0.37,"s":"C"},{"x":74,"y":0.15,"s":"C"},{"x":80,"y":0.25,"s":"C"},{"x":80,"y":0.15,"s":"C"},{"x":86,"y":0.4,"s":"C"},{"x":86,"y":0.1,"s":"C"},{"x":45,"y":0.23,"s":"C"},{"x":45,"y":0.15,"s":"C"},{"x":47,"y":0.21,"s":"C"},{"x":47,"y":0.1,"s":"C"},{"x":50,"y":0.11,"s":"C"},
{"x":53,"y":0.98,"s":"T"},{"x":54,"y":0.99,"s":"T"},{"x":60,"y":1,"s":"T"},{"x":61,"y":1.03,"s":"T"},{"x":68,"y":1.04,"s":"T"},{"x":72,"y":0.98,"s":"T"},{"x":73,"y":1,"s":"T"},{"x":75,"y":1.07,"s":"T"},{"x":78,"y":1,"s":"T"},{"x":79,"y":0.97,"s":"T"},{"x":82,"y":0.96,"s":"T"},{"x":87,"y":0.97,"s":"T"},{"x":47,"y":0.76,"s":"T"},{"x":51,"y":0.84,"s":"T"},{"x":51,"y":0.8,"s":"T"},{"x":52,"y":0.9,"s":"T"},{"x":55,"y":0.9,"s":"T"},{"x":51,"y":0.75,"s":"T"},{"x":60,"y":0.78,"s":"T"},{"x":59,"y":0.75,"s":"T"},{"x":61,"y":0.87,"s":"T"},{"x":62,"y":0.87,"s":"T"},{"x":63,"y":0.85,"s":"T"},{"x":64,"y":0.91,"s":"T"},{"x":65,"y":0.86,"s":"T"},{"x":66,"y":0.91,"s":"T"},{"x":68,"y":0.87,"s":"T"},{"x":69,"y":0.84,"s":"T"},{"x":69,"y":0.8,"s":"T"},{"x":70,"y":0.87,"s":"T"},{"x":71,"y":0.82,"s":"T"},{"x":71,"y":0.89,"s":"T"},{"x":72,"y":0.92,"s":"T"},{"x":72,"y":0.84,"s":"T"},{"x":74,"y":0.9,"s":"T"},{"x":75,"y":0.88,"s":"T"},{"x":78,"y":0.76,"s":"T"},{"x":80,"y":0.85,"s":"T"},{"x":80,"y":0.8,"s":"T"},{"x":56,"y":0.6,"s":"T"},{"x":46,"y":0.6,"s":"T"},{"x":47,"y":0.6,"s":"T"},{"x":51,"y":0.5,"s":"T"},{"x":53,"y":0.5,"s":"T"},{"x":54,"y":0.6,"s":"T"},{"x":55,"y":0.6,"s":"T"},{"x":57,"y":0.72,"s":"T"},{"x":58,"y":0.73,"s":"T"},{"x":59,"y":0.6,"s":"T"},{"x":60,"y":0.65,"s":"T"},{"x":61,"y":0.64,"s":"T"},{"x":62,"y":0.57,"s":"T"},{"x":63,"y":0.55,"s":"T"},{"x":64,"y":0.58,"s":"T"},{"x":66,"y":0.59,"s":"T"},{"x":68,"y":0.6,"s":"T"},{"x":70,"y":0.58,"s":"T"},{"x":71,"y":0.66,"s":"T"},{"x":72,"y":0.6,"s":"T"},{"x":73,"y":0.63,"s":"T"},{"x":74,"y":0.58,"s":"T"},{"x":75,"y":0.58,"s":"T"},{"x":76,"y":0.68,"s":"T"},{"x":77,"y":0.6,"s":"T"},{"x":84,"y":0.66,"s":"T"},{"x":86,"y":0.7,"s":"T"},{"x":46,"y":0.47,"s":"T"},{"x":47,"y":0.45,"s":"T"},{"x":48,"y":0.48,"s":"T"},{"x":52,"y":0.3,"s":"T"},{"x":53,"y":0.45,"s":"T"},{"x":54,"y":0.4,"s":"T"},{"x":55,"y":0.43,"s":"T"},{"x":56,"y":0.38,"s":"T"},{"x":56,"y":0.33,"s":"T"},{"x":57,"y":0.52,"s":"T"},{"x":58,"y":0.44,"s":"T"},{"x":60,"y":0.47,"s":"T"},{"x":61,"y":0.47,"s":"T"},{"x":62,"y":0.33,"s":"T"},{"x":63,"y":0.32,"s":"T"},{"x":64,"y":0.28,"s":"T"},{"x":65,"y":0.47,"s":"T"},{"x":66,"y":0.42,"s":"T"},{"x":68,"y":0.35,"s":"T"},{"x":69,"y":0.32,"s":"T"},{"x":70,"y":0.42,"s":"T"},{"x":70,"y":0.37,"s":"T"},{"x":71,"y":0.43,"s":"T"},{"x":72,"y":0.3,"s":"T"},{"x":74,"y":0.33,"s":"T"},{"x":74,"y":0.38,"s":"T"},{"x":75,"y":0.43,"s":"T"},{"x":75,"y":0.47,"s":"T"},{"x":80,"y":0.52,"s":"T"},{"x":80,"y":0.35,"s":"T"},{"x":83,"y":0.42,"s":"T"},{"x":83,"y":0.35,"s":"T"},{"x":85,"y":0.47,"s":"T"},{"x":46,"y":0.1,"s":"T"},{"x":47,"y":0.13,"s":"T"},{"x":48,"y":0.24,"s":"T"},{"x":49,"y":0.22,"s":"T"},{"x":48,"y":0.17,"s":"T"},{"x":49,"y":0.14,"s":"T"},{"x":50,"y":0.3,"s":"T"},{"x":51,"y":0.3,"s":"T"},{"x":52,"y":0.15,"s":"T"},{"x":53,"y":0.15,"s":"T"},{"x":53,"y":0.19,"s":"T"},{"x":54,"y":0.2,"s":"T"},{"x":55,"y":0.18,"s":"T"},{"x":55,"y":0.09,"s":"T"},{"x":57,"y":0.15,"s":"T"},{"x":57,"y":0.01,"s":"T"},{"x":59,"y":0.01,"s":"T"},{"x":60,"y":0.15,"s":"T"},{"x":61,"y":0.25,"s":"T"},{"x":61,"y":0.1,"s":"T"},{"x":62,"y":0.1,"s":"T"},{"x":63,"y":0.17,"s":"T"},{"x":64,"y":0.14,"s":"T"},{"x":65,"y":0.14,"s":"T"},{"x":65,"y":0.09,"s":"T"},{"x":66,"y":0.01,"s":"T"},{"x":68,"y":0.16,"s":"T"},{"x":69,"y":0.13,"s":"T"},{"x":71,"y":0.14,"s":"T"},{"x":76,"y":0.24,"s":"T"},{"x":77,"y":0.01,"s":"T"},{"x":78,"y":0.24,"s":"T"},{"x":78,"y":0.14,"s":"T"},{"x":80,"y":0.09,"s":"T"},{"x":82,"y":0.16,"s":"T"},{"x":84,"y":0.16,"s":"T"},{"x":88,"y":0.26,"s":"T"}],
"t1":[{"r":"Age (years)","a":"45–54","b":"55–64","c":"65–74","d":"75–88"},{"r":"Tai chi (162)","a":"0.69","b":"0.68","c":"0.66","d":"0.64"},{"r":"Control (205)","a":"0.61","b":"0.59","c":"0.58","d":"0.55"},{"r":"Difference","a":"0.08","b":"0.08","c":"0.09","d":"0.09"},{"r":"Difference (%)","a":"13.53","b":"14.22","c":"15.01","d":"16.03"}],
"t2":[{"r":"Age (years)","a":"45–54","b":"55–64","c":"65–74","d":"75–88"},{"r":"Tai chi (203)","a":"1.16","b":"1.16","c":"1.14","d":"1.14"},{"r":"Control (218)","a":"1.17","b":"1.14","c":"1.12","d":"1.09"},{"r":"Difference","a":"0","b":"0.01","c":"0.03","d":"0.05"},{"r":"Difference (%)","a":"−0.24","b":"1.13","c":"2.67","d":"4.63"}],
"t3":[{"r":"Age (years)","a":"45–54","b":"55–64","c":"65–74","d":"75–88"},{"r":"Tai chi (203)","a":"1.29","b":"1.29","c":"1.29","d":"1.29"},{"r":"Control (223)","a":"1.29","b":"1.27","c":"1.25","d":"1.23"},{"r":"Difference","a":"0","b":"0.02","c":"0.04","d":"0.06"},{"r":"Difference (%)","a":"0.34","b":"1.7","c":"3.21","d":"5.09"}],
"t4":[{"r":"Age (years)","a":"45–54","b":"55–64","c":"65–74","d":"75–88"},{"r":"Tai chi (203)","a":"1.22","b":"1.23","c":"1.23","d":"1.24"},{"r":"Control (223)","a":"1.21","b":"1.2","c":"1.19","d":"1.18"},{"r":"Difference","a":"0.01","b":"0.03","c":"0.04","d":"0.06"},{"r":"Difference (%)","a":"1.23","b":"2.39","c":"3.67","d":"5.23"}],
"t5":[{"r":"Age (years)","a":"45–54","b":"55–64","c":"65–74","d":"75–88"},{"r":"Tai chi (159)","a":"0.04","b":"0.03","c":"0.03","d":"0.03"},{"r":"Control (206)","a":"0.04","b":"0.05","c":"0.07","d":"0.09"},{"r":"Difference","a":"0","b":"−0.02","c":"−0.04","d":"−0.06"},{"r":"Difference (%)","a":"7.89","b":"−32.67","c":"−55.33","d":"−70.68"}],
"t6":[{"r":"Age (years)","a":"45–54","b":"55–64","c":"65–74","d":"75–88"},{"r":"Tai chi (184)","a":"0.49","b":"0.53","c":"0.58","d":"0.64"},{"r":"Control (220)","a":"0.6","b":"0.64","c":"0.68","d":"0.73"},{"r":"Difference","a":"−0.11","b":"−0.1","c":"−0.1","d":"−0.09"},{"r":"Difference (%)","a":"−18.46","b":"−16.4","c":"−14.4","d":"−12.31"}]},
"vconcat":[
{"width":1,"height":20,"data":{"values":[]},"mark":"point"},
{"hconcat":[
{"width":71,"height":120,"title":{"text":"(a)","dx":23,"offset":9},"data":{"values":[]},"mark":"point"},
{"width":196,"height":120,"view":{"stroke":"#666"},"title":{"text":"Rad50_2","dx":2,"offset":0},"encoding":{"x":{"field":"x","type":"quantitative","scale":{"domain":[40,90]},"axis":{"values":[40,45,50,55,60,65,70,75,80,85,90],"grid":false,"title":null,"format":"d"}},"y":{"field":"y","type":"quantitative","scale":{"domain":[-0.05,1.55]},"axis":{"values":[-0.05,0.15,0.35,0.55,0.75,0.95,1.15,1.35,1.55],"title":"Methylation","titleX":-40,"titleY":54,"format":".3~g"}}},"layer":[
{"data":{"name":"p1"},"mark":"point","encoding":{"color":{"field":"s","type":"nominal","scale":{"domain":["T","C"],"range":["#b9562c","#2a9d9f"]},"legend":{"orient":"none","legendX":-21.6,"legendY":155.5,"title":null,"symbolSize":13,"symbolStrokeWidth":1,"rowPadding":3,"labelOffset":3.3,"labelExpr":"datum.label=='T'?'Tai chi: y = −0.0016x + 0.7731, R² = 0.0041':'Controls: y = −0.0018x + 0.7005, R² = 0.0044'"}},"shape":{"field":"s","type":"nominal","scale":{"domain":["T","C"],"range":["triangle-up","circle"]},"legend":null}}},
{"data":{"name":"l1"},"mark":"line","encoding":{"stroke":{"field":"s","type":"nominal","scale":{"domain":["Tai chi","Controls"],"range":["#c2603a","#2fa9a9"]},"legend":{"orient":"none","legendX":-38.5,"legendY":155,"title":null,"symbolType":"M-1.3,0L1.3,0","symbolSize":169,"symbolStrokeWidth":1.2,"rowPadding":0,"labelExpr":"''"}}}}]},
{"width":102,"height":120,"data":{"values":[]},"mark":"point"},
{"width":196,"height":120,"view":{"stroke":"#666"},"title":{"text":"17p_7","dx":4,"offset":0},"encoding":{"x":{"field":"x","type":"quantitative","scale":{"domain":[40,90]},"axis":{"values":[40,45,50,55,60,65,70,75,80,85,90],"grid":false,"title":null,"format":"d"}},"y":{"field":"y","type":"quantitative","scale":{"domain":[0.8,1.5]},"axis":{"values":[0.8,0.9,1,1.1,1.2,1.3,1.4,1.5],"title":"Methylation","titleX":-27,"format":".3~g"}}},"layer":[
{"data":{"name":"p2"},"mark":"point","encoding":{"color":{"field":"s","type":"nominal","scale":{"domain":["T","C"],"range":["#b9562c","#2a9d9f"]},"legend":{"orient":"none","legendX":-14.6,"legendY":156,"title":null,"symbolSize":13,"symbolStrokeWidth":1,"rowPadding":3,"labelOffset":5.3,"labelExpr":"datum.label=='T'?'Tai chi: y = −0.0008x + 1.2025, R² = 0.0134':'Controls: y = −0.0025x + 1.2903, R² = 0.1011'"}},"shape":{"field":"s","type":"nominal","scale":{"domain":["T","C"],"range":["triangle-up","circle"]},"legend":null}}},
{"data":{"name":"l2"},"mark":"line","encoding":{"stroke":{"field":"s","type":"nominal","scale":{"domain":["Tai chi","Controls"],"range":["#c2603a","#2fa9a9"]},"legend":{"orient":"none","legendX":-31.5,"legendY":155,"title":null,"symbolType":"M-1.3,0L1.3,0","symbolSize":169,"symbolStrokeWidth":1.2,"rowPadding":0,"labelExpr":"''"}}}}]}
],"bounds":"flush","spacing":0,"resolve":{"scale":{"color":"independent","shape":"independent","stroke":"independent"},"legend":{"color":"independent","stroke":"independent"}}},
{"width":1,"height":2,"data":{"values":[]},"mark":"point"},
{"hconcat":[
{"width":49,"height":56,"data":{"values":[]},"mark":"point"},
{"width":68,"height":56,"view":{"stroke":"#333"},"data":{"name":"t1"},"mark":{"type":"text","align":"left","dx":-32,"fontSize":11,"color":"#222"},"encoding":{"y":{"field":"r","type":"nominal","sort":null,"title":null,"scale":{"type":"band"}},"text":{"field":"r"}}},
{"width":154,"height":56,"view":{"stroke":"#333"},"title":{"text":"(i)","orient":"bottom","dx":38,"offset":4},"data":{"name":"t1"},"transform":[{"fold":["a","b","c","d"],"as":["k","v"]}],"mark":{"type":"text","fontSize":11,"color":"#222"},"encoding":{"x":{"field":"k","type":"nominal","title":null,"scale":{"type":"band"}},"y":{"field":"r","type":"nominal","sort":null,"title":null,"scale":{"type":"band"}},"text":{"field":"v"}}},
{"width":85,"height":56,"data":{"values":[]},"mark":"point"},
{"width":69,"height":56,"view":{"stroke":"#333"},"data":{"name":"t2"},"mark":{"type":"text","align":"left","dx":-32.5,"fontSize":11,"color":"#222"},"encoding":{"y":{"field":"r","type":"nominal","sort":null,"title":null,"scale":{"type":"band"}},"text":{"field":"r"}}},
{"width":151,"height":56,"view":{"stroke":"#333"},"title":{"text":"(ii)","orient":"bottom","dx":37,"offset":4},"data":{"name":"t2"},"transform":[{"fold":["a","b","c","d"],"as":["k","v"]}],"mark":{"type":"text","fontSize":11,"color":"#222"},"encoding":{"x":{"field":"k","type":"nominal","title":null,"scale":{"type":"band"}},"y":{"field":"r","type":"nominal","sort":null,"title":null,"scale":{"type":"band"}},"text":{"field":"v"}}}
],"bounds":"flush","spacing":0},
{"hconcat":[
{"width":66,"height":115,"data":{"values":[]},"mark":"point"},
{"width":195,"height":115,"view":{"stroke":"#666"},"title":{"text":"G6PD_6","dx":2,"offset":-2},"encoding":{"x":{"field":"x","type":"quantitative","scale":{"domain":[40,90]},"axis":{"values":[40,45,50,55,60,65,70,75,80,85,90],"grid":false,"title":null,"format":"d"}},"y":{"field":"y","type":"quantitative","scale":{"domain":[0.8,1.6]},"axis":{"values":[0.8,0.9,1,1.1,1.2,1.3,1.4,1.5,1.6],"title":"Methylation","titleX":-24,"format":".3~g"}}},"layer":[
{"data":{"name":"p3"},"mark":"point","encoding":{"color":{"field":"s","type":"nominal","scale":{"domain":["T","C"],"range":["#b9562c","#2a9d9f"]},"legend":{"orient":"none","legendX":-14.6,"legendY":142.5,"title":null,"symbolSize":13,"symbolStrokeWidth":1,"rowPadding":3,"labelOffset":4.3,"labelExpr":"datum.label=='T'?'Tai chi: y = 7E − 05x + 1.2877, R² = 1E − 04':'Controls: y = −0.0018x + 1.3769, R² = 0.0278'"}},"shape":{"field":"s","type":"nominal","scale":{"domain":["T","C"],"range":["triangle-up","circle"]},"legend":null}}},
{"data":{"name":"l3"},"mark":"line","encoding":{"stroke":{"field":"s","type":"nominal","scale":{"domain":["Tai chi","Controls"],"range":["#c2603a","#2fa9a9"]},"legend":{"orient":"none","legendX":-31.5,"legendY":142,"title":null,"symbolType":"M-1.3,0L1.3,0","symbolSize":169,"symbolStrokeWidth":1.2,"rowPadding":0,"labelExpr":"''"}}}}]},
{"width":106,"height":115,"data":{"values":[]},"mark":"point"},
{"width":196,"height":115,"view":{"stroke":"#666"},"title":{"text":"G6PD_7","dx":1,"offset":-2},"encoding":{"x":{"field":"x","type":"quantitative","scale":{"domain":[40,90]},"axis":{"values":[40,45,50,55,60,65,70,75,80,85,90],"grid":false,"title":null,"format":"d"}},"y":{"field":"y","type":"quantitative","scale":{"domain":[0.6,1.8]},"axis":{"values":[0.6,0.8,1,1.2,1.4,1.6,1.8],"title":"Methylation","titleX":-25,"format":".3~g"}}},"layer":[
{"data":{"name":"p4"},"mark":"point","encoding":{"color":{"field":"s","type":"nominal","scale":{"domain":["T","C"],"range":["#b9562c","#2a9d9f"]},"legend":{"orient":"none","legendX":-12.6,"legendY":142.5,"title":null,"symbolSize":13,"symbolStrokeWidth":1,"rowPadding":3,"labelOffset":3.3,"labelExpr":"datum.label=='T'?'Tai chi: y = 0.0006x + 1.1926, R² = 0.0017':'Controls: y = −0.0009x + 1.2527, R² = 0.0071'"}},"shape":{"field":"s","type":"nominal","scale":{"domain":["T","C"],"range":["triangle-up","circle"]},"legend":null}}},
{"data":{"name":"l4"},"mark":"line","encoding":{"stroke":{"field":"s","type":"nominal","scale":{"domain":["Tai chi","Controls"],"range":["#c2603a","#2fa9a9"]},"legend":{"orient":"none","legendX":-29.5,"legendY":142,"title":null,"symbolType":"M-1.3,0L1.3,0","symbolSize":169,"symbolStrokeWidth":1.2,"rowPadding":0,"labelExpr":"''"}}}}]}
],"bounds":"flush","spacing":0,"resolve":{"scale":{"color":"independent","shape":"independent","stroke":"independent"},"legend":{"color":"independent","stroke":"independent"}}},
{"hconcat":[
{"width":51,"height":57,"data":{"values":[]},"mark":"point"},
{"width":69,"height":57,"view":{"stroke":"#333"},"data":{"name":"t3"},"mark":{"type":"text","align":"left","dx":-32.5,"fontSize":11,"color":"#222"},"encoding":{"y":{"field":"r","type":"nominal","sort":null,"title":null,"scale":{"type":"band"}},"text":{"field":"r"}}},
{"width":151,"height":57,"view":{"stroke":"#333"},"title":{"text":"(iii)","orient":"bottom","dx":34,"offset":10},"data":{"name":"t3"},"transform":[{"fold":["a","b","c","d"],"as":["k","v"]}],"mark":{"type":"text","color":"#222"},"encoding":{"x":{"field":"k","type":"nominal","title":null,"scale":{"type":"band"}},"y":{"field":"r","type":"nominal","sort":null,"title":null,"scale":{"type":"band"}},"text":{"field":"v"},"size":{"condition":{"test":"datum.r=='Age (years)'","value":11},"value":8.5}}},
{"width":82,"height":57,"data":{"values":[]},"mark":"point"},
{"width":69,"height":57,"view":{"stroke":"#333"},"data":{"name":"t4"},"mark":{"type":"text","align":"left","dx":-32.5,"fontSize":11,"color":"#222"},"encoding":{"y":{"field":"r","type":"nominal","sort":null,"title":null,"scale":{"type":"band"}},"text":{"field":"r"}}},
{"width":152,"height":57,"view":{"stroke":"#333"},"title":{"text":"(iv)","orient":"bottom","dx":41,"offset":10},"data":{"name":"t4"},"transform":[{"fold":["a","b","c","d"],"as":["k","v"]}],"mark":{"type":"text","color":"#222"},"encoding":{"x":{"field":"k","type":"nominal","title":null,"scale":{"type":"band"}},"y":{"field":"r","type":"nominal","sort":null,"title":null,"scale":{"type":"band"}},"text":{"field":"v"},"size":{"condition":{"test":"datum.r=='Age (years)'","value":11},"value":8.5}}}
],"bounds":"flush","spacing":0},
{"width":1,"height":71,"data":{"values":[]},"mark":"point"},
{"hconcat":[
{"width":66,"height":120,"title":{"text":"(b)","dx":30,"offset":3},"data":{"values":[]},"mark":"point"},
{"width":198,"height":120,"view":{"stroke":"#666"},"title":{"text":"Rad50_10","dx":3,"offset":3},"encoding":{"x":{"field":"x","type":"quantitative","scale":{"domain":[40,90]},"axis":{"values":[40,45,50,55,60,65,70,75,80,85,90],"grid":false,"title":"Age (years)","format":"d"}},"y":{"field":"y","type":"quantitative","scale":{"domain":[-0.05,0.5]},"axis":{"values":[-0.05,0.05,0.15,0.25,0.35,0.45],"title":"Methylation","titleX":-35,"format":".3~g"}}},"layer":[
{"data":{"name":"p5"},"mark":"point","encoding":{"color":{"field":"s","type":"nominal","scale":{"domain":["T","C"],"range":["#b9562c","#2a9d9f"]},"legend":{"orient":"none","legendX":-10.6,"legendY":159.5,"title":null,"symbolSize":13,"symbolStrokeWidth":1,"rowPadding":3,"labelOffset":5.3,"labelExpr":"datum.label=='T'?'Tai chi: y = −0.0004x + 0.0583, R² = 0.0026':'Controls: y = 0.0017x − 0.0484, R² = 0.0233'"}},"shape":{"field":"s","type":"nominal","scale":{"domain":["T","C"],"range":["triangle-up","circle"]},"legend":null}}},
{"data":{"name":"l5"},"mark":"line","encoding":{"stroke":{"field":"s","type":"nominal","scale":{"domain":["Tai chi","Controls"],"range":["#c2603a","#2fa9a9"]},"legend":{"orient":"none","legendX":-27.5,"legendY":159,"title":null,"symbolType":"M-1.3,0L1.3,0","symbolSize":169,"symbolStrokeWidth":1.2,"rowPadding":0,"labelExpr":"''"}}}}]},
{"width":107,"height":120,"data":{"values":[]},"mark":"point"},
{"width":199,"height":120,"view":{"stroke":"#666"},"title":{"text":"Xp13_1","dx":3,"offset":-2},"encoding":{"x":{"field":"x","type":"quantitative","scale":{"domain":[40,90]},"axis":{"values":[40,45,50,55,60,65,70,75,80,85,90],"grid":false,"title":"Age (years)","format":"d"}},"y":{"field":"y","type":"quantitative","scale":{"domain":[-0.05,1.35]},"axis":{"values":[-0.05,0.15,0.35,0.55,0.75,0.95,1.15,1.35],"title":"Methylation","titleX":-33,"format":".3~g"}}},"layer":[
{"data":{"name":"p6"},"mark":"point","encoding":{"color":{"field":"s","type":"nominal","scale":{"domain":["T","C"],"range":["#b9562c","#2a9d9f"]},"legend":{"orient":"none","legendX":-9.6,"legendY":159.5,"title":null,"symbolSize":13,"symbolStrokeWidth":1,"rowPadding":3,"labelOffset":4.3,"labelExpr":"datum.label=='T'?'Tai chi: y = 0.0047x + 0.2566, R² = 0.0288':'Controls: y = 0.004x + 0.4028, R² = 0.0211'"}},"shape":{"field":"s","type":"nominal","scale":{"domain":["T","C"],"range":["triangle-up","circle"]},"legend":null}}},
{"data":{"name":"l6"},"mark":"line","encoding":{"stroke":{"field":"s","type":"nominal","scale":{"domain":["Tai chi","Controls"],"range":["#c2603a","#2fa9a9"]},"legend":{"orient":"none","legendX":-26.5,"legendY":159,"title":null,"symbolType":"M-1.3,0L1.3,0","symbolSize":169,"symbolStrokeWidth":1.2,"rowPadding":0,"labelExpr":"''"}}}}]}
],"bounds":"flush","spacing":0,"resolve":{"scale":{"color":"independent","shape":"independent","stroke":"independent"},"legend":{"color":"independent","stroke":"independent"}}},
{"width":1,"height":2.5,"data":{"values":[]},"mark":"point"},
{"hconcat":[
{"width":54,"height":63,"data":{"values":[]},"mark":"point"},
{"width":71,"height":63,"view":{"stroke":"#333"},"data":{"name":"t5"},"mark":{"type":"text","align":"left","dx":-33.5,"fontSize":11,"color":"#222"},"encoding":{"y":{"field":"r","type":"nominal","sort":null,"title":null,"scale":{"type":"band"}},"text":{"field":"r"}}},
{"width":154,"height":63,"view":{"stroke":"#333"},"title":{"text":"(i)","orient":"bottom","dx":27,"offset":5},"data":{"name":"t5"},"transform":[{"fold":["a","b","c","d"],"as":["k","v"]}],"mark":{"type":"text","fontSize":11,"color":"#222"},"encoding":{"x":{"field":"k","type":"nominal","title":null,"scale":{"type":"band"}},"y":{"field":"r","type":"nominal","sort":null,"title":null,"scale":{"type":"band"}},"text":{"field":"v"}}},
{"width":76,"height":63,"data":{"values":[]},"mark":"point"},
{"width":68,"height":63,"view":{"stroke":"#333"},"data":{"name":"t6"},"mark":{"type":"text","align":"left","dx":-32,"fontSize":11,"color":"#222"},"encoding":{"y":{"field":"r","type":"nominal","sort":null,"title":null,"scale":{"type":"band"}},"text":{"field":"r"}}},
{"width":156,"height":63,"view":{"stroke":"#333"},"title":{"text":"(ii)","orient":"bottom","dx":42,"offset":5},"data":{"name":"t6"},"transform":[{"fold":["a","b","c","d"],"as":["k","v"]}],"mark":{"type":"text","fontSize":11,"color":"#222"},"encoding":{"x":{"field":"k","type":"nominal","title":null,"scale":{"type":"band"}},"y":{"field":"r","type":"nominal","sort":null,"title":null,"scale":{"type":"band"}},"text":{"field":"v"}}}
],"bounds":"flush","spacing":0}
]}
